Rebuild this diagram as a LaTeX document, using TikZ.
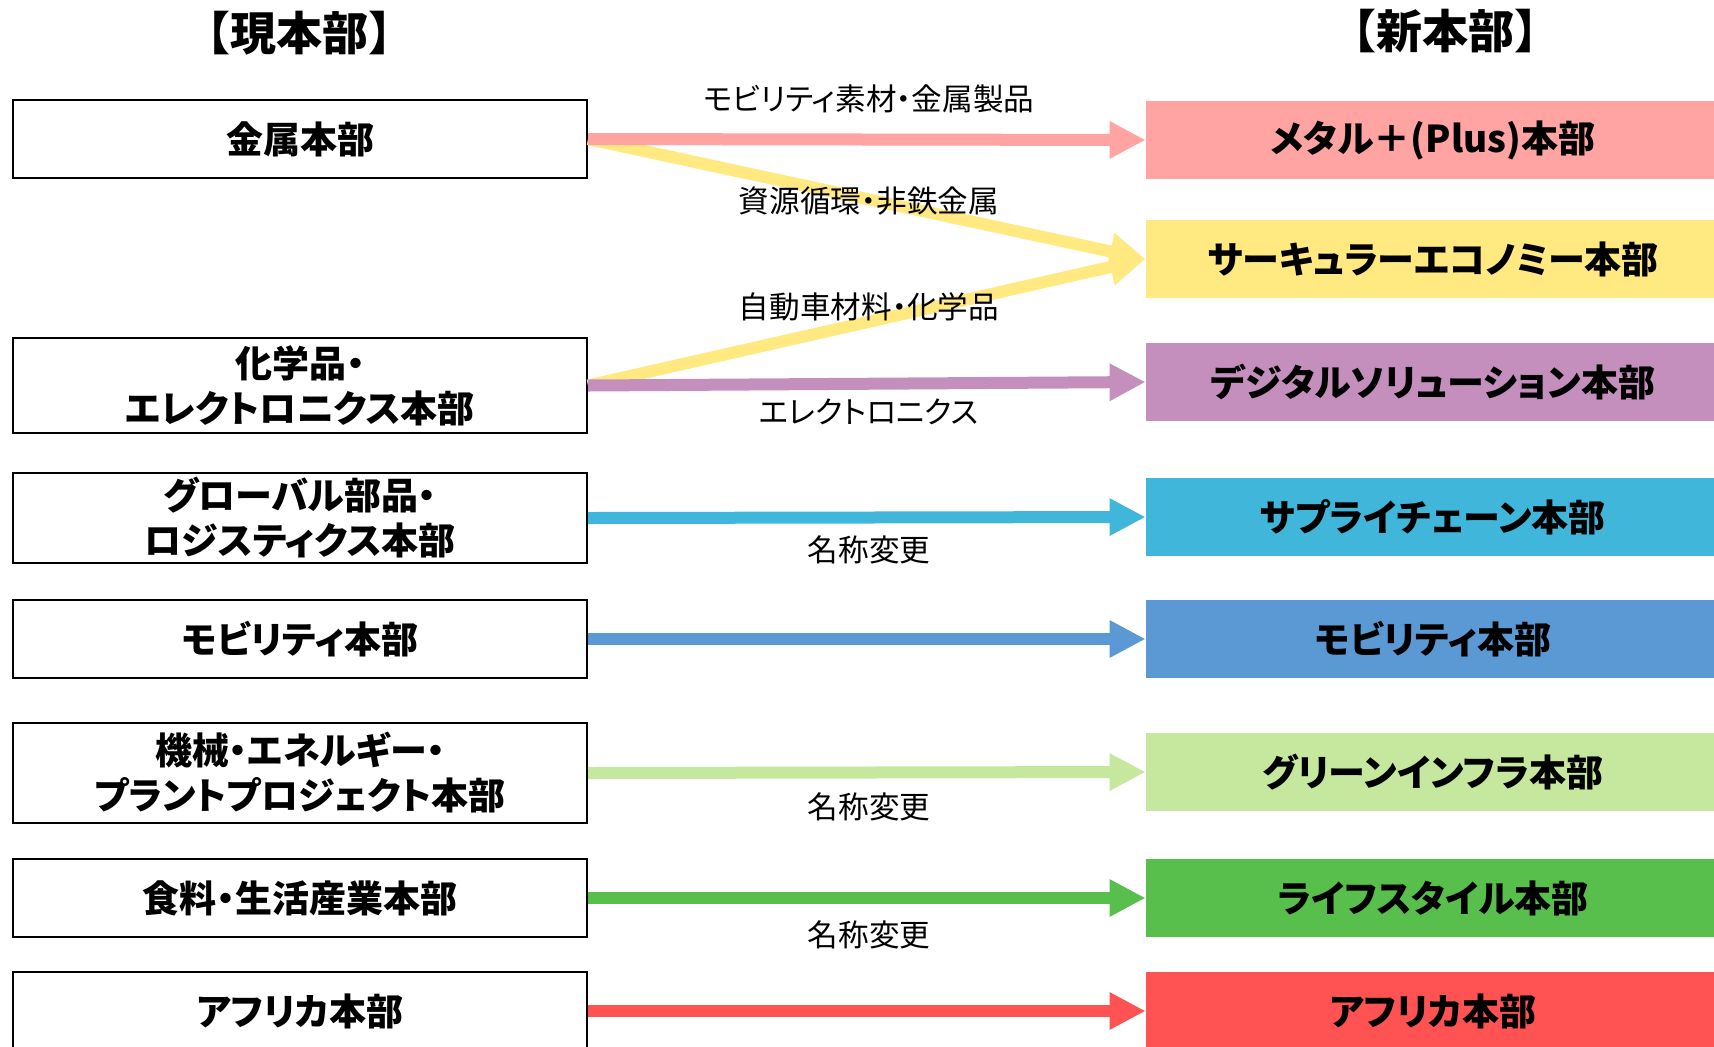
\documentclass[tikz,border=0pt]{standalone}
\usepackage{fontspec}
\setmainfont[RawFeature=+palt]{Noto Sans CJK JP}
\newfontfamily\ttlfont{Noto Sans CJK JP}
\usetikzlibrary{arrows.meta}
\definecolor{cpink}{HTML}{FFA3A3}
\definecolor{cyellow}{HTML}{FFE980}
\definecolor{cpurple}{HTML}{C48FBD}
\definecolor{ccyan}{HTML}{41B6DB}
\definecolor{cblue}{HTML}{5B99D5}
\definecolor{clgreen}{HTML}{C5E89E}
\definecolor{cgreen}{HTML}{58BF4D}
\definecolor{cred}{HTML}{FF5353}
\begin{document}
\begin{tikzpicture}[x=0.5pt,y=-0.5pt,
  lbox/.style={draw=black, line width=1pt, minimum width=287pt, inner sep=0pt, align=center,
    font=\fontsize{18.5pt}{22.5pt}\selectfont\bfseries},
  rbox/.style={minimum width=287pt, minimum height=39pt, inner sep=0pt, align=center,
    font=\fontsize{18.5pt}{22.5pt}\selectfont\bfseries},
  conn/.style={line width=6pt, -{Triangle[length=18pt,width=17.5pt]}},
  lab/.style={font=\fontsize{15.3pt}{18pt}\selectfont, inner sep=0pt},
  ttl/.style={font=\ttlfont\fontsize{23pt}{27pt}\selectfont\bfseries, inner sep=0pt}
]
\useasboundingbox (0,0) rectangle (1714,1046);
\fill[white] (0,0) rectangle (1714,1046);

% titles
\node[ttl] (t1) at (299,33) {【現本部】};
\node[ttl] (t2) at (1445,31) {【新本部】};

% left boxes
\node[lbox, minimum height=39pt] (l1) at (300,139) {金属本部};
\node[lbox, minimum height=47.5pt] (l2) at (300,385.5) {化学品・\\エレクトロニクス本部};
\node[lbox, minimum height=45pt] (l3) at (300,518) {グローバル部品・\\ロジスティクス本部};
\node[lbox, minimum height=39pt] (l4) at (300,639) {モビリティ本部};
\node[lbox, minimum height=50pt] (l5) at (300,773) {機械・エネルギー・\\プラントプロジェクト本部};
\node[lbox, minimum height=39pt] (l6) at (300,898) {食料・生活産業本部};
\node[lbox, minimum height=39pt] (l7) at (300,1011) {アフリカ本部};

% right boxes
\node[rbox, fill=cpink] (r1) at (1433,140) {メタル＋(Plus)本部};
\node[rbox, fill=cyellow] (r2) at (1433,259) {サーキュラーエコノミー本部};
\node[rbox, fill=cpurple] (r3) at (1433,382) {デジタルソリューション本部};
\node[rbox, fill=ccyan] (r4) at (1433,517) {サプライチェーン本部};
\node[rbox, fill=cblue] (r5) at (1433,639) {モビリティ本部};
\node[rbox, fill=clgreen] (r6) at (1433,772) {グリーンインフラ本部};
\node[rbox, fill=cgreen] (r7) at (1433,898) {ライフスタイル本部};
\node[rbox, fill=cred] (r8) at (1433,1011) {アフリカ本部};

% connectors
\draw[conn, cyellow] (l1.east) -- (r2.west);
\draw[conn, cyellow] (l2.east) -- (r2.west);
\draw[conn, cpink] (l1.east) -- (r1.west);
\draw[conn, cpurple] (l2.east) -- (r3.west);
\draw[conn, ccyan] (l3.east) -- (r4.west);
\draw[conn, cblue] (l4.east) -- (r5.west);
\draw[conn, clgreen] (l5.east) -- (r6.west);
\draw[conn, cgreen] (l6.east) -- (r7.west);
\draw[conn, cred] (l7.east) -- (r8.west);

% labels
\node[lab] (a1) at (869,99) {モビリティ素材・金属製品};
\node[lab] (a2) at (869,201) {資源循環・非鉄金属};
\node[lab] (a3) at (869,307) {自動車材料・化学品};
\node[lab] (a4) at (869,412) {エレクトロニクス};
\node[lab] (a5) at (869,550) {名称変更};
\node[lab] (a6) at (869,807) {名称変更};
\node[lab] (a7) at (869,935) {名称変更};
\end{tikzpicture}
\end{document}
